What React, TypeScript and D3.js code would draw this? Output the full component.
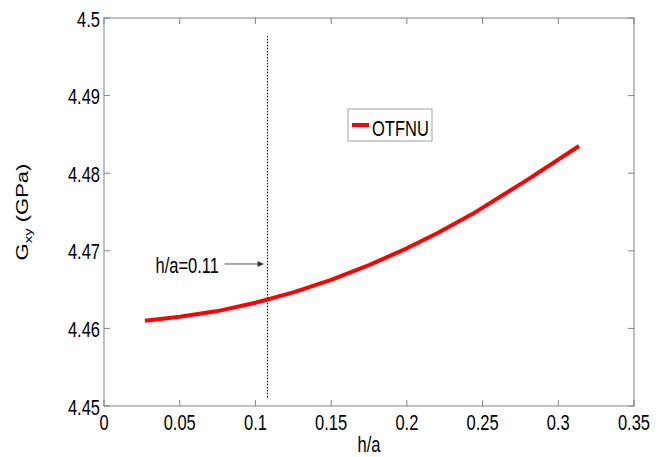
import React from "react";
import * as d3 from "d3";

const hOverA = [0.027, 0.05, 0.075, 0.1, 0.125, 0.15, 0.175, 0.2, 0.22, 0.245, 0.28, 0.3137];
const gxy = [4.461, 4.4615, 4.46223, 4.4633, 4.46464, 4.46625, 4.46815, 4.47032, 4.47227, 4.47495, 4.4792, 4.4835];
const xTicks = [0, 0.05, 0.1, 0.15, 0.2, 0.25, 0.3, 0.35];
const yTicks = [4.45, 4.46, 4.47, 4.48, 4.49, 4.5];
const seriesName = "OTFNU";
const markX = 0.108;
const markLabel = "h/a=0.11";
const markArrowY = 4.4683;

const W = 667;
const H = 457;
const FONT = "Arial, 'Liberation Sans', Helvetica, sans-serif";
const SX = 0.75;
const FS = 22;
const AXIS = "#80808f";

function SText({ x, y, anchor = "start", children, size = FS }: any) {
  return (
    <text
      transform={`translate(${x},${y}) scale(${SX},1)`}
      textAnchor={anchor}
      fontFamily={FONT}
      fontSize={size}
      fill="#000"
    >
      {children}
    </text>
  );
}

export default function App() {
  const x = d3.scaleLinear().domain([0, 0.35]).range([104, 634]);
  const y = d3.scaleLinear().domain([4.45, 4.5]).range([406, 18]);
  const pts: [number, number][] = hOverA.map((h, i) => [h, gxy[i]]);
  const line = d3
    .line<[number, number]>()
    .x((d) => x(d[0]))
    .y((d) => y(d[1]));
  const fmtX = (v: number) => String(+v.toFixed(2));
  const fmtY = (v: number) => String(+v.toFixed(2));
  const [x0, x1] = x.range();
  const [y0, y1] = y.range();
  const tick = 6;
  const mx = x(markX);
  const ay = y(markArrowY);

  return (
    <svg
      width={W}
      height={H}
      style={{ position: "absolute", left: 0, top: 0, background: "#fff" }}
    >
      <defs>
        <marker id="ah" viewBox="0 0 10 10" refX="10" refY="5" markerWidth="7" markerHeight="6" orient="auto" markerUnits="userSpaceOnUse">
          <path d="M0,0 L10,5 L0,10 z" fill="#333" />
        </marker>
      </defs>
      {/* axes box */}
      <rect x={x0} y={y1} width={x1 - x0} height={y0 - y1} fill="none" stroke={AXIS} strokeWidth={1} />
      {xTicks.map((t) => (
        <g key={"xt" + t}>
          <line x1={x(t)} x2={x(t)} y1={y0} y2={y0 - tick} stroke={AXIS} />
          <line x1={x(t)} x2={x(t)} y1={y1} y2={y1 + tick} stroke={AXIS} />
          <SText x={x(t)} y={y0 + 24} anchor="middle">{fmtX(t)}</SText>
        </g>
      ))}
      {yTicks.map((t) => (
        <g key={"yt" + t}>
          <line x1={x0} x2={x0 + tick} y1={y(t)} y2={y(t)} stroke={AXIS} />
          <line x1={x1} x2={x1 - tick} y1={y(t)} y2={y(t)} stroke={AXIS} />
          <SText x={x0 - 4} y={y(t) + 8.5} anchor="end">{fmtY(t)}</SText>
        </g>
      ))}
      {/* axis titles */}
      <SText x={(x0 + x1) / 2} y={452} anchor="middle">h/a</SText>
      <text
        transform={`translate(28,${(y0 + y1) / 2}) scale(${SX},1) rotate(-90)`}
        textAnchor="middle"
        fontFamily={FONT}
        fontSize={FS}
        fill="#000"
      >
        G<tspan fontSize={15} dy={5}>xy</tspan>
        <tspan dy={-5}> (GPa)</tspan>
      </text>
      {/* vertical dotted marker */}
      <line x1={mx} x2={mx} y1={y(4.4977)} y2={y(4.451)} stroke="#000" strokeWidth={1} strokeDasharray="1.5,1.5" />
      {/* data line */}
      <path d={line(pts) || ""} fill="none" stroke="#ff0000" strokeWidth={4} strokeLinejoin="round" />
      {/* annotation */}
      <SText x={mx - 112} y={ay + 9} anchor="start">{markLabel}</SText>
      <line x1={mx - 43} x2={mx - 4} y1={ay} y2={ay} stroke="#555" strokeWidth={1} markerEnd="url(#ah)" />
      {/* legend */}
      <rect x={348} y={109} width={84} height={32} fill="#fff" stroke="#a0a0a0" strokeWidth={1} />
      <line x1={352} x2={369} y1={125} y2={125} stroke="#ff0000" strokeWidth={4} />
      <SText x={372} y={136}>{seriesName}</SText>
    </svg>
  );
}
